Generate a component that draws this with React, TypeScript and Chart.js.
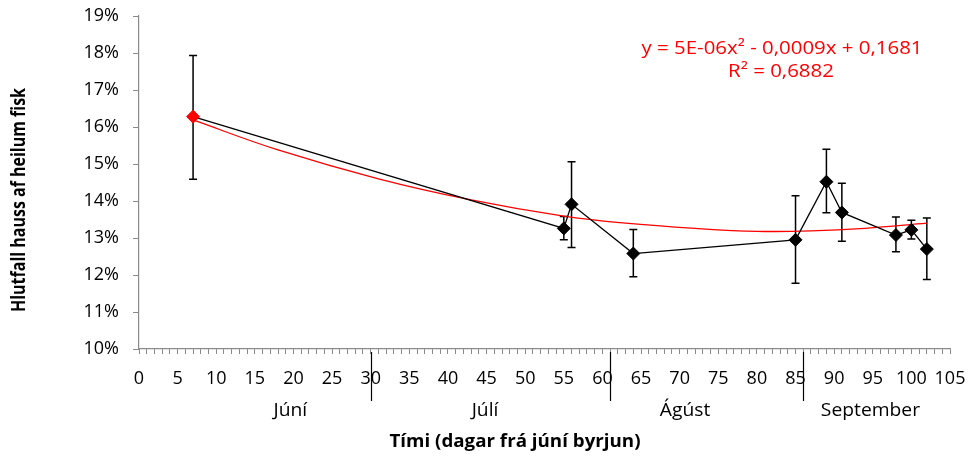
import React, { useEffect, useRef } from "react";
import { Chart, registerables } from "chart.js";

Chart.register(...registerables);

// Observations (days since start of June, % head of whole fish)
const days = [7, 55, 56, 64, 85, 89, 91, 98, 100, 102];
const headRatio = [16.28, 13.26, 13.91, 12.58, 12.95, 14.52, 13.69, 13.08, 13.22, 12.7];
const errHigh = [17.93, 13.58, 15.06, 13.23, 14.14, 15.4, 14.48, 13.57, 13.48, 13.54];
const errLow = [14.59, 12.95, 12.74, 11.95, 11.78, 13.68, 12.91, 12.63, 12.97, 11.88];

// Trend line
const trendDays = [7, 18, 31, 43, 55, 63, 72, 80, 87, 94, 102];
const trendValues = [16.19, 15.38, 14.6, 14.03, 13.59, 13.4, 13.26, 13.18, 13.19, 13.26, 13.4];

// Month annotations
const monthNames = ["Júní", "Júlí", "Ágúst", "September"];
const monthCenters = [19.6, 44.8, 70.7, 94.7];
const monthBounds = [30, 61, 86];

const equationLine1 = "y = 5E-06x² - 0,0009x + 0,1681";
const equationLine2 = "R² = 0,6882";
const xTitle = "Tími (dagar frá júní byrjun)";
const yTitle = "Hlutfall hauss af heilum fisk";

const FONT = "'Open Sans', 'Liberation Sans', sans-serif";
const AXIS_GRAY = "#8a8a8a";

function stretchedText(ctx: any, text: string, cx: number, cy: number, sx: number) {
  ctx.save();
  ctx.translate(cx, cy);
  ctx.scale(sx, 1);
  ctx.fillText(text, 0, 0);
  ctx.restore();
}

const overlayPlugin = {
  id: "overlay",
  beforeDatasetsDraw(chart: any) {
    const ctx = chart.ctx;
    const x = chart.scales.x;
    const y = chart.scales.y;
    ctx.save();
    ctx.strokeStyle = "#000";
    ctx.lineWidth = 1.5;
    for (let i = 0; i < days.length; i++) {
      const px = x.getPixelForValue(days[i]);
      const top = y.getPixelForValue(errHigh[i]);
      const bot = y.getPixelForValue(errLow[i]);
      ctx.beginPath();
      ctx.moveTo(px, top);
      ctx.lineTo(px, bot);
      ctx.moveTo(px - 4, top);
      ctx.lineTo(px + 4, top);
      ctx.moveTo(px - 4, bot);
      ctx.lineTo(px + 4, bot);
      ctx.stroke();
    }
    ctx.restore();
  },
  afterDraw(chart: any) {
    const ctx = chart.ctx;
    const x = chart.scales.x;
    const area = chart.chartArea;
    ctx.save();
    // month separators
    ctx.strokeStyle = "#000";
    ctx.lineWidth = 1.2;
    for (const b of monthBounds) {
      const px = Math.round(x.getPixelForValue(b)) + 0.5;
      ctx.beginPath();
      ctx.moveTo(px, area.bottom + 3);
      ctx.lineTo(px, area.bottom + 52);
      ctx.stroke();
    }
    // month names
    ctx.fillStyle = "#000";
    ctx.font = `18px ${FONT}`;
    ctx.textAlign = "center";
    ctx.textBaseline = "middle";
    monthNames.forEach((m, i) => {
      stretchedText(ctx, m, x.getPixelForValue(monthCenters[i]), area.bottom + 62, 1.07);
    });
    // x title
    ctx.font = `bold 17px ${FONT}`;
    stretchedText(ctx, xTitle, 515, 442, 251 / ctx.measureText(xTitle).width);
    // y title
    ctx.save();
    ctx.translate(19, 200);
    ctx.rotate(-Math.PI / 2);
    ctx.font = `bold 20px ${FONT}`;
    ctx.fillText(yTitle, 0, 0, 224);
    ctx.restore();
    // equation
    ctx.fillStyle = "#ff0000";
    ctx.font = `18px ${FONT}`;
    const sx = 281 / ctx.measureText(equationLine1).width;
    stretchedText(ctx, equationLine1, 782, 49, sx);
    stretchedText(ctx, equationLine2, 781, 72, sx);
    ctx.restore();
  },
};

export default function App() {
  const ref = useRef<HTMLCanvasElement>(null);
  useEffect(() => {
    if (!ref.current) return;
    const chart = new Chart(ref.current, {
      type: "line",
      data: {
        datasets: [
          {
            data: days.map((d, i) => ({ x: d, y: headRatio[i] })),
            borderColor: "#000",
            borderWidth: 1.3,
            backgroundColor: days.map((_, i) => (i === 0 ? "#ff0000" : "#000")),
            pointBorderColor: days.map((_, i) => (i === 0 ? "#ff0000" : "#000")),
            pointStyle: "rectRot",
            pointRadius: 6.5,
            pointBorderWidth: 1,
            tension: 0,
            order: 1,
          },
          {
            data: trendDays.map((d, i) => ({ x: d, y: trendValues[i] })),
            borderColor: "#ff0000",
            borderWidth: 1.3,
            pointRadius: 0,
            tension: 0.4,
            order: 2,
          },
        ],
      },
      options: {
        animation: false,
        responsive: true,
        maintainAspectRatio: false,
        events: [],
        layout: { padding: { left: 0, right: 21, top: 16, bottom: 0 } },
        plugins: { legend: { display: false }, tooltip: { enabled: false } },
        scales: {
          x: {
            type: "linear",
            min: 0,
            max: 105,
            afterFit: (s: any) => {
              s.height = 110;
              s.paddingLeft = 0;
              s.paddingRight = 0;
            },
            border: { color: AXIS_GRAY, width: 1.2 },
            grid: {
              drawOnChartArea: false,
              tickLength: 5,
              color: AXIS_GRAY,
            },
            ticks: {
              stepSize: 1,
              autoSkip: false,
              maxRotation: 0,
              minRotation: 0,
              padding: 14,
              color: "#000",
              font: { family: FONT, size: 18 },
              callback: (v: any) => (Number(v) % 5 === 0 ? String(v) : ""),
            },
          },
          y: {
            min: 10,
            max: 19,
            afterFit: (s: any) => {
              s.width = 139;
              s.paddingTop = 0;
              s.paddingBottom = 0;
            },
            border: { color: AXIS_GRAY, width: 1.2 },
            grid: { drawOnChartArea: false, tickLength: 6, color: AXIS_GRAY },
            ticks: {
              stepSize: 1,
              padding: 14,
              color: "#000",
              font: { family: FONT, size: 18 },
              callback: (v: any) => `${Math.round(Number(v))}%`,
            },
          },
        },
      },
      plugins: [overlayPlugin],
    });
    return () => chart.destroy();
  }, []);
  return (
    <div style={{ position: "fixed", left: 0, top: 0, width: 971, height: 459, background: "#fff" }}>
      <canvas ref={ref} />
    </div>
  );
}
